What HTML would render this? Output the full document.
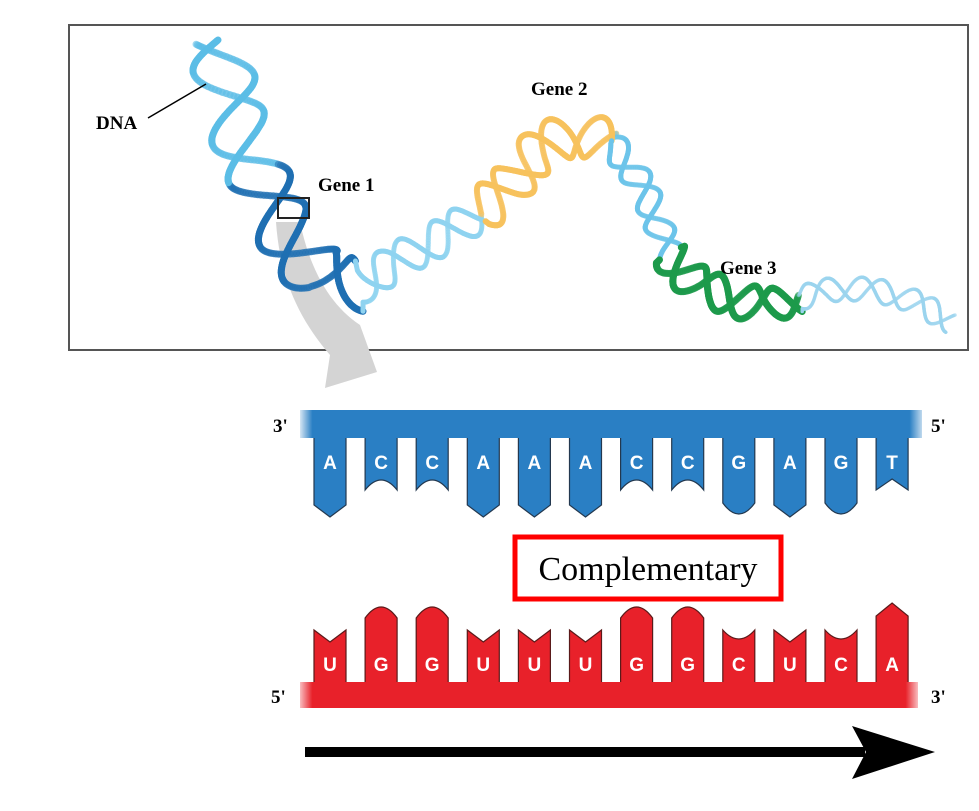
<!DOCTYPE html>
<html><head><meta charset="utf-8"><style>
html,body{margin:0;padding:0;background:#fff;}
body{width:979px;height:811px;position:relative;overflow:hidden;}
svg{position:absolute;left:0;top:0;}
.lb{font-family:"Liberation Serif",serif;font-weight:bold;font-size:19px;fill:#000;}
.bl{font-family:"Liberation Sans",sans-serif;font-weight:bold;font-size:19px;fill:#fff;text-anchor:middle;}
</style></head><body>
<svg id="s" width="979" height="811" viewBox="0 0 979 811" xmlns="http://www.w3.org/2000/svg">
<defs>
<linearGradient id="gb" x1="0" x2="1"><stop offset="0" stop-color="#2a7fc4" stop-opacity="0.2"/><stop offset="0.02" stop-color="#2a7fc4"/><stop offset="0.98" stop-color="#2a7fc4"/><stop offset="1" stop-color="#2a7fc4" stop-opacity="0.3"/></linearGradient>
<linearGradient id="gr" x1="0" x2="1"><stop offset="0" stop-color="#e8212a" stop-opacity="0.3"/><stop offset="0.02" stop-color="#e8212a"/><stop offset="0.98" stop-color="#e8212a"/><stop offset="1" stop-color="#e8212a" stop-opacity="0.3"/></linearGradient>
</defs>
<rect x="69" y="25" width="899" height="325" fill="#fff" stroke="#555" stroke-width="2"/>
<path d="M276,222 L300,222 C310,270 330,305 360,325 L377,372 L325,388 L330,355 C300,320 280,280 276,222 Z" fill="#d4d4d4"/>
<g id="helix"></g>
<rect x="278" y="198" width="31" height="20" fill="none" stroke="#222" stroke-width="2"/>
<line x1="148" y1="118" x2="206" y2="84" stroke="#000" stroke-width="1.5"/>
<text class="lb" x="96" y="129">DNA</text>
<text class="lb" x="318" y="191">Gene 1</text>
<text class="lb" x="531" y="95">Gene 2</text>
<text class="lb" x="720" y="274">Gene 3</text>

<rect x="300" y="410" width="622" height="28" fill="url(#gb)"/>
<g id="blue" fill="#2a7fc4" stroke="#23384f" stroke-width="1.2"></g>
<text class="lb" x="273" y="432">3'</text>
<text class="lb" x="931" y="432">5'</text>

<rect x="515" y="537" width="266" height="62" fill="none" stroke="#f00" stroke-width="5"/>
<text x="648" y="580" text-anchor="middle" font-family="Liberation Serif, serif" font-size="34">Complementary</text>

<g id="red" fill="#e8212a" stroke="#5a1a1a" stroke-width="1.2"></g>
<rect x="300" y="682" width="618" height="26" fill="url(#gr)"/>
<text class="lb" x="271" y="703">5'</text>
<text class="lb" x="931" y="703">3'</text>

<rect x="305" y="747" width="560" height="10" fill="#000"/>
<polygon points="852,726 935,752 852,779 866,752" fill="#000"/>
</svg>
<script>
(function(){
var NS="http://www.w3.org/2000/svg";
function el(t,a,p){var e=document.createElementNS(NS,t);for(var k in a)e.setAttribute(k,a[k]);p.appendChild(e);return e;}
var blue=document.getElementById('blue'),red=document.getElementById('red');
var bl="ACCAAACCGAGT",rl="UGGUUUGGCUCA";
for(var i=0;i<12;i++){
 var x=314+i*51.1,w=32,c=x+w/2,d;
 var b=bl[i];
 if(b=='A')d="M"+x+",438 L"+x+",505 L"+c+",517 L"+(x+w)+",505 L"+(x+w)+",438";
 else if(b=='G')d="M"+x+",438 L"+x+",503 Q"+c+",525 "+(x+w)+",503 L"+(x+w)+",438";
 else if(b=='C')d="M"+x+",438 L"+x+",490 Q"+c+",470 "+(x+w)+",490 L"+(x+w)+",438";
 else d="M"+x+",438 L"+x+",490 L"+c+",479 L"+(x+w)+",490 L"+(x+w)+",438";
 el('path',{d:d},blue);
 var t=el('text',{x:c,y:469,'class':'bl'},document.getElementById('s'));t.textContent=b;
 var r=rl[i];
 if(r=='A')d="M"+x+",682 L"+x+",616 L"+c+",603 L"+(x+w)+",616 L"+(x+w)+",682";
 else if(r=='G')d="M"+x+",682 L"+x+",618 Q"+c+",596 "+(x+w)+",618 L"+(x+w)+",682";
 else if(r=='C')d="M"+x+",682 L"+x+",630 Q"+c+",648 "+(x+w)+",630 L"+(x+w)+",682";
 else d="M"+x+",682 L"+x+",630 L"+c+",642 L"+(x+w)+",630 L"+(x+w)+",682";
 el('path',{d:d},red);
 var t2=el('text',{x:c,y:671,'class':'bl'},document.getElementById('s'));t2.textContent=r;
}
var P=[[218,40],[232,110],[258,175],[285,230],[320,275],[360,285],[395,262],[440,238],[480,212],[510,185],[540,150],[575,135],[610,145],[635,175],[655,215],[670,255],[695,282],[725,295],[762,305],[800,298],[830,290],[870,290],[910,300],[952,322]];
var seg=[["#5bbde6",30,110,7],["#5bbde6",30,110,7],["#1f6fb2",30,105,7],["#1f6fb2",30,105,7],["#1f6fb2",28,100,7],["#8fd3f0",18,62,5],["#8fd3f0",18,62,5],["#8fd3f0",18,62,5],["#f7c25d",22,65,6],["#f7c25d",22,65,6],["#f7c25d",22,65,6],["#f7c25d",22,65,6],["#6cc4ea",14,58,5],["#6cc4ea",14,58,5],["#6cc4ea",14,58,5],["#1d9a4b",18,62,7],["#1d9a4b",18,62,7],["#1d9a4b",18,62,7],["#1d9a4b",16,62,7],["#9bd4ee",12,52,3.5],["#9bd4ee",12,52,3.5],["#9bd4ee",12,52,3.5],["#9bd4ee",12,52,3.5]];
var g=document.getElementById('helix');
function cr(p0,p1,p2,p3,t){var t2=t*t,t3=t2*t;return [0.5*((2*p1[0])+(-p0[0]+p2[0])*t+(2*p0[0]-5*p1[0]+4*p2[0]-p3[0])*t2+(-p0[0]+3*p1[0]-3*p2[0]+p3[0])*t3),0.5*((2*p1[1])+(-p0[1]+p2[1])*t+(2*p0[1]-5*p1[1]+4*p2[1]-p3[1])*t2+(-p0[1]+3*p1[1]-3*p2[1]+p3[1])*t3)];}
var pts=[];
for(var i=0;i<P.length-1;i++){var p0=P[Math.max(0,i-1)],p1=P[i],p2=P[i+1],p3=P[Math.min(P.length-1,i+2)];
 for(var k=0;k<40;k++){var q=cr(p0,p1,p2,p3,k/40);q.push(i);pts.push(q);}}
var th=0,A=[],B=[];
for(var j=0;j<pts.length;j++){
 var a=pts[Math.max(0,j-1)],b=pts[Math.min(pts.length-1,j+1)];
 var dx=b[0]-a[0],dy=b[1]-a[1],L=Math.sqrt(dx*dx+dy*dy)||1,nx=-dy/L,ny=dx/L;
 var s=seg[pts[j][2]];
 if(j>0){var ex=pts[j][0]-pts[j-1][0],ey=pts[j][1]-pts[j-1][1];th+=2*Math.PI*Math.sqrt(ex*ex+ey*ey)/s[2];}
 var o1=s[1]*Math.sin(th),o2=s[1]*Math.sin(th+2.3);
 A.push([pts[j][0]+nx*o1,pts[j][1]+ny*o1,Math.cos(th),s]);
 B.push([pts[j][0]+nx*o2,pts[j][1]+ny*o2,Math.cos(th+2.3),s]);
}
function draw(S,front){for(var j=1;j<S.length;j++){var f=S[j][2]>0;if(f!==front)continue;var s=S[j][3];
 el('line',{x1:S[j-1][0].toFixed(1),y1:S[j-1][1].toFixed(1),x2:S[j][0].toFixed(1),y2:S[j][1].toFixed(1),stroke:s[0],'stroke-width':s[3],'stroke-linecap':'round','stroke-opacity':front?1:0.6},g);}}
draw(A,false);draw(B,false);draw(A,true);draw(B,true);
})();
</script>
</body></html>
